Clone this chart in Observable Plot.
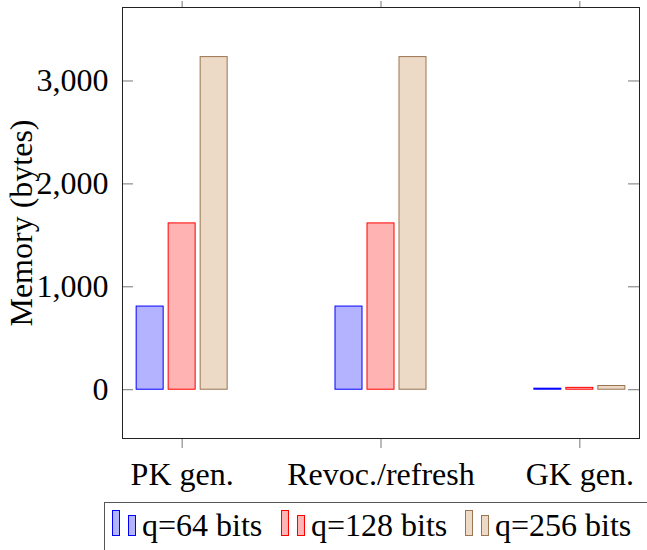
<!DOCTYPE html>
<html><head><meta charset="utf-8">
<script src="https://cdn.jsdelivr.net/npm/d3@7"></script>
<script src="https://cdn.jsdelivr.net/npm/@observablehq/plot@0.6"></script>
<style>
html,body{margin:0;padding:0;background:#fff;}
body{width:647px;height:550px;overflow:hidden;position:relative;font-family:"Liberation Serif",serif;}
#chart{position:absolute;left:0;top:0;}
#legend{position:absolute;left:104px;top:502px;}
</style></head><body>
<div id="chart"></div>
<svg id="legend" width="543" height="48"></svg>
<script>
const categories = ["PK gen.", "Revoc./refresh", "GK gen."];
const seriesNames = ["q=64 bits", "q=128 bits", "q=256 bits"];
const q64 = [808, 808, 10];
const q128 = [1616, 1616, 18];
const q256 = [3232, 3232, 36];
const yTicks = [0, 1000, 2000, 3000];

const fills = ["#b3b3ff", "#ffb3b3", "#ecd9c6"];
const strokes = ["#0000ff", "#ff0000", "#9a7552"];

const seriesValues = [q64, q128, q256];
const data = [];
seriesValues.forEach((vals, s) => vals.forEach((v, i) =>
  data.push({category: categories[i], ci: i, series: seriesNames[s], si: s, value: v})));

const xDomain = [-0.3, 2.3];
const yDomain = [-474, 3714];
const W = 647, H = 495, mL = 122, mR = 8, mT = 7, mB = 57;
const pxPerX = (W - mL - mR) / (xDomain[1] - xDomain[0]);
const barShift = 32 / pxPerX, barW = 27 / pxPerX, tickLen = 11 / pxPerX;
const fmt = d3.format(",");

const chart = Plot.plot({
  width: W, height: H,
  marginLeft: mL, marginRight: mR, marginTop: mT, marginBottom: mB,
  style: {fontFamily: "'Liberation Serif', serif", fontSize: "32px", color: "#000", background: "#fff"},
  x: {domain: xDomain, label: null},
  y: {domain: yDomain, label: null},
  color: {type: "identity"},
  marks: [
    Plot.rectY(data, {
      x1: d => d.ci + (d.si - 1) * barShift - barW / 2,
      x2: d => d.ci + (d.si - 1) * barShift + barW / 2,
      y1: 0, y2: "value",
      fill: d => fills[d.si], stroke: d => strokes[d.si], strokeWidth: 1
    }),
    Plot.ruleY(yTicks, {y: d => d, x1: xDomain[0], x2: xDomain[0] + tickLen, stroke: "#777"}),
    Plot.ruleY(yTicks, {y: d => d, x1: xDomain[1] - tickLen, x2: xDomain[1], stroke: "#777"}),
    Plot.axisY({ticks: yTicks, tickSize: 0, tickPadding: 14, tickFormat: fmt, label: null, fontSize: 32}),
    Plot.axisX({ticks: [0, 1, 2], tickSize: 10, tickPadding: 14, tickFormat: i => categories[i], label: null, stroke: "#777", fontSize: 32}),
    Plot.axisX({anchor: "top", ticks: [0, 1, 2], tickSize: 7, tickFormat: () => "", label: null, stroke: "#777"}),
    Plot.text(["Memory (bytes)"], {frameAnchor: "left", rotate: -90, dx: -101, textAnchor: "middle", lineAnchor: "middle", fontSize: 32}),
    Plot.frame({stroke: "#222"})
  ]
});
document.getElementById("chart").appendChild(chart);

const leg = d3.select("#legend");
leg.append("line").attr("x1", 0).attr("x2", 543).attr("y1", 0.5).attr("y2", 0.5).attr("stroke", "#555");
leg.append("line").attr("x1", 0.5).attr("x2", 0.5).attr("y1", 0).attr("y2", 48).attr("stroke", "#555");
const groupX = [8, 177, 361];
seriesNames.forEach((name, s) => {
  const g = leg.append("g").attr("transform", `translate(${groupX[s]},0)`);
  g.append("rect").attr("x", 0.5).attr("y", 8.5).attr("width", 7).attr("height", 25)
    .attr("fill", fills[s]).attr("stroke", strokes[s]);
  g.append("rect").attr("x", 16.5).attr("y", 13.5).attr("width", 7).attr("height", 20)
    .attr("fill", fills[s]).attr("stroke", strokes[s]);
  g.append("text").attr("x", 30).attr("y", 34).attr("font-size", 32)
    .attr("font-family", "'Liberation Serif', serif").attr("fill", "#000").text(name);
});
</script>
</body></html>
